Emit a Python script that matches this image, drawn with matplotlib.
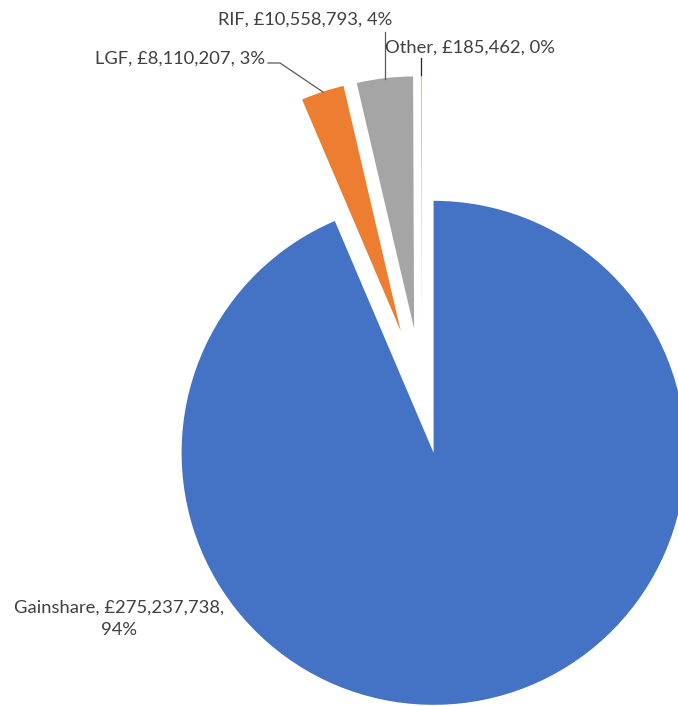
import matplotlib
matplotlib.use("Agg")
import matplotlib.pyplot as plt

categories = ["Gainshare", "LGF", "RIF", "Other"]
values = [275237738, 8110207, 10558793, 185462]
percent_labels = ["94%", "3%", "4%", "0%"]
colors = ["#4472C4", "#ED7D31", "#A5A5A5", "#FFC000"]

W, H = 678, 706
fig = plt.figure(figsize=(W / 100, H / 100), dpi=100)
ax = fig.add_axes([0, 0, 1, 1])
ax.set_xlim(0, W)
ax.set_ylim(0, H)
ax.set_aspect("equal")
ax.axis("off")

def py(y):
    return H - y

ax.pie(values, radius=252, center=(422, py(396)), explode=[58, 68, 68, 68],
       startangle=90, counterclock=False, colors=colors,
       wedgeprops=dict(linewidth=0))
ax.set_xlim(0, W)
ax.set_ylim(0, H)

fam = ["Lato", "DejaVu Sans"]
tc = "#404040"
fs = 13.2

def lab(i, sep=", "):
    return f"{categories[i]}, £{values[i]:,}{sep}{percent_labels[i]}"

# Gainshare
ax.text(119, py(618.5), lab(0, ",\n"), ha="center", va="center", fontsize=fs,
        color=tc, family=fam, linespacing=1.5, multialignment="center")
# LGF
ax.text(265, py(59), lab(1), ha="right", va="center", fontsize=fs, color=tc, family=fam)
ax.plot([268, 280, 323], [py(63), py(63), py(92)], color="#595959", lw=0.9)
# RIF
ax.text(305, py(20), lab(2), ha="center", va="center", fontsize=fs, color=tc, family=fam)
ax.plot([385, 385], [py(32), py(79)], color="#595959", lw=0.9)
# Other
ax.text(385, py(48), lab(3), ha="left", va="center", fontsize=fs, color=tc, family=fam)
ax.plot([421, 421], [py(58), py(75)], color="#262626", lw=0.9)

fig.savefig("out.png", dpi=100)
